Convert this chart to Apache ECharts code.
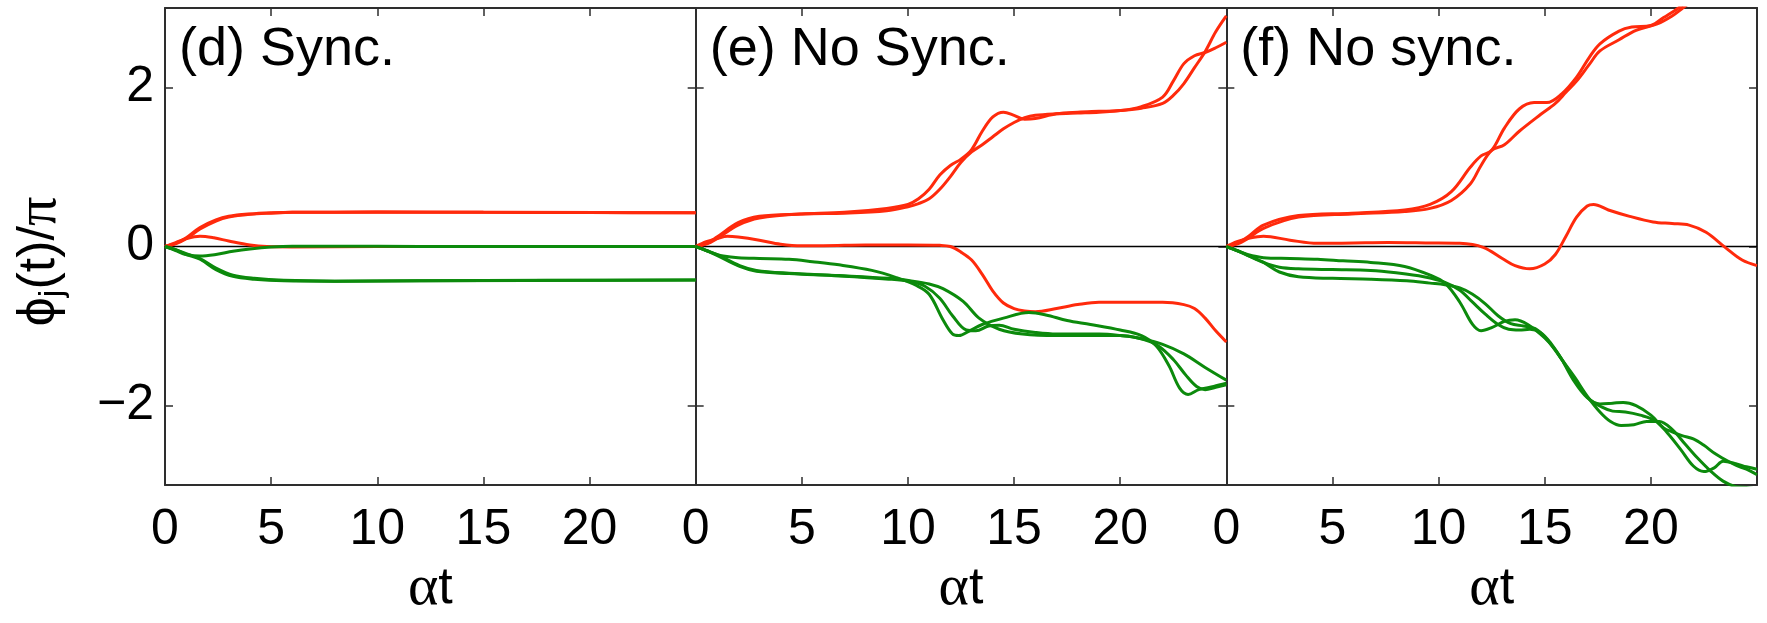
<!DOCTYPE html>
<html><head><meta charset="utf-8">
<script src="https://cdn.jsdelivr.net/npm/echarts@6/dist/echarts.min.js"></script>
<style>html,body{margin:0;padding:0;background:#fff}#c{width:1767px;height:623px}</style>
</head><body><div id="c"></div>
<script>
// ---------- data (x = αt, y = φj(t)/π) ----------
const panelTitles = ['(d) Sync.', '(e) No Sync.', '(f) No sync.'];
const xTickLabels = [0, 5, 10, 15, 20];
const xTickMarks = [5, 10, 15, 20];
const yTickLabels = [-2, 0, 2];
const xRange = [0, 25];
const yRange = [-3, 3];
const zeroLine = [[0, 0], [25, 0]];

// panel (d) Sync.
const d_red1 = [[0,0],[0.5,0.04],[1,0.11],[1.65,0.24],[2.4,0.335],[3,0.38],[4,0.41],[5,0.425],[6,0.432],[10,0.433],[15,0.43],[20,0.427],[25,0.425]];
const d_red2 = [[0,0],[0.5,0.035],[1,0.1],[1.65,0.22],[2.4,0.32],[3,0.37],[4,0.405],[5,0.42],[6,0.43],[10,0.433],[25,0.425]];
const d_red3 = [[0,0],[0.5,0.05],[1,0.1],[1.65,0.13],[2.3,0.11],[3,0.07],[4,0.02],[4.8,0.0],[6,-0.005],[10,0],[25,0]];
const d_grn1 = [[0,0],[0.5,-0.05],[1,-0.1],[1.65,-0.12],[2.4,-0.1],[3.2,-0.06],[4,-0.03],[5,-0.005],[6,0.005],[8,0.005],[12,0],[25,0]];
const d_grn2 = [[0,0],[0.5,-0.04],[1,-0.1],[1.65,-0.16],[2.4,-0.29],[3.2,-0.375],[4.2,-0.41],[5.6,-0.43],[8,-0.435],[12,-0.43],[18,-0.425],[25,-0.42]];
const d_grn3 = [[0,0],[0.5,-0.04],[1,-0.09],[1.65,-0.15],[2.4,-0.27],[3.2,-0.36],[4.2,-0.4],[5.6,-0.425],[8,-0.435],[12,-0.43],[25,-0.42]];

// panel (e) No Sync.
const e_red1 = [[0,0],[0.5,0.04],[1,0.12],[2,0.3],[3,0.38],[5,0.41],[7,0.43],[9,0.48],[10,0.53],[10.5,0.6],[11,0.72],[11.5,0.9],[12,1.02],[12.5,1.1],[13,1.22],[13.5,1.45],[14,1.63],[14.5,1.69],[15,1.65],[15.5,1.6],[16,1.61],[17,1.67],[18,1.69],[19,1.7],[20,1.71],[21,1.76],[22,1.88],[22.5,2.08],[23,2.3],[23.5,2.4],[24,2.44],[24.5,2.5],[25,2.57]];
const e_red2 = [[0,0],[0.5,0.03],[1,0.1],[2,0.27],[3,0.36],[5,0.41],[7,0.42],[9,0.45],[10,0.5],[10.5,0.54],[11,0.6],[11.5,0.72],[12,0.88],[12.5,1.06],[13,1.19],[13.5,1.28],[14,1.38],[14.5,1.48],[15,1.56],[15.5,1.62],[16,1.65],[17,1.67],[18,1.68],[19,1.69],[20,1.71],[21,1.74],[22,1.8],[22.5,1.9],[23,2.05],[23.5,2.25],[24,2.45],[24.5,2.7],[25,2.9]];
const e_red3 = [[0,0],[0.5,0.06],[1,0.1],[1.5,0.13],[2,0.12],[3,0.08],[4,0.03],[5,0.01],[6,0.01],[8,0.02],[10,0.02],[11.5,0.015],[12,0],[12.5,-0.07],[13,-0.17],[13.5,-0.35],[14,-0.56],[14.5,-0.71],[15,-0.78],[15.5,-0.81],[16,-0.82],[17,-0.78],[18,-0.73],[19,-0.7],[21,-0.7],[22,-0.7],[23,-0.73],[23.5,-0.78],[24,-0.9],[24.5,-1.06],[25,-1.2]];
const e_grn1 = [[0,0],[0.5,-0.05],[1,-0.1],[1.3,-0.12],[2,-0.14],[3,-0.15],[4.4,-0.16],[5.5,-0.19],[6.75,-0.23],[8.3,-0.3],[9.45,-0.39],[10.4,-0.49],[11,-0.6],[11.65,-0.92],[12.1,-1.1],[12.4,-1.12],[12.9,-1.06],[13.5,-0.98],[14.5,-0.9],[15.7,-0.83],[16.5,-0.86],[17.5,-0.93],[18.6,-0.98],[20,-1.05],[21,-1.12],[21.7,-1.25],[22.3,-1.5],[22.8,-1.78],[23.2,-1.86],[23.7,-1.8],[24.4,-1.76],[25,-1.72]];
const e_grn2 = [[0,0],[0.5,-0.05],[1,-0.11],[2.07,-0.25],[2.86,-0.31],[4.4,-0.34],[6.75,-0.37],[9.1,-0.41],[10.1,-0.44],[10.8,-0.5],[11.5,-0.65],[12.1,-0.87],[12.75,-1.05],[13.2,-1.06],[13.8,-1.0],[14.3,-0.99],[15,-1.04],[16,-1.08],[17,-1.1],[18,-1.1],[19,-1.1],[20,-1.12],[21,-1.16],[21.8,-1.25],[22.5,-1.42],[23.1,-1.62],[23.6,-1.76],[24,-1.8],[24.5,-1.77],[25,-1.74]];
const e_grn3 = [[0,0],[0.5,-0.05],[1,-0.1],[2.07,-0.24],[2.86,-0.3],[4.4,-0.335],[6.75,-0.365],[9.1,-0.4],[10.1,-0.43],[11,-0.47],[11.65,-0.53],[12.6,-0.69],[13.35,-0.9],[14.3,-1.04],[15.4,-1.1],[17,-1.12],[18.6,-1.12],[20,-1.12],[21,-1.16],[22,-1.23],[23,-1.35],[24,-1.52],[25,-1.68]];

// panel (f) No sync.
const f_red1 = [[0,0],[0.5,0.04],[1,0.12],[1.75,0.27],[3.4,0.39],[5.9,0.42],[8.4,0.46],[9.6,0.53],[10.6,0.69],[11.5,1.0],[12,1.14],[12.5,1.21],[13.1,1.49],[13.8,1.73],[14.5,1.81],[15.1,1.81],[15.8,1.92],[16.5,2.13],[17.1,2.38],[17.6,2.55],[18.5,2.71],[19.1,2.76],[20,2.78],[20.6,2.88],[21.3,3.0],[22,3.15],[23,3.35]];
const f_red2 = [[0,0],[0.5,0.03],[1,0.1],[1.75,0.23],[3.4,0.37],[5.9,0.41],[8.4,0.44],[9.6,0.48],[10.6,0.58],[11.5,0.79],[12,1.02],[12.5,1.21],[13.1,1.28],[13.8,1.45],[14.8,1.66],[15.5,1.8],[16,1.94],[16.5,2.08],[17.1,2.29],[17.6,2.46],[18.5,2.6],[19.3,2.72],[20.3,2.8],[21,2.9],[21.5,3.0],[22.5,3.2],[23.5,3.4]];
const f_red3 = [[0,0],[0.5,0.06],[1,0.1],[1.75,0.13],[3,0.08],[4.3,0.04],[6,0.045],[7.6,0.05],[9.5,0.045],[11,0.04],[12.1,-0.01],[13,-0.15],[13.6,-0.24],[14.3,-0.28],[15,-0.22],[15.5,-0.1],[16,0.13],[16.5,0.37],[17,0.51],[17.3,0.53],[18,0.46],[19,0.38],[20.1,0.31],[21,0.29],[21.8,0.27],[22.6,0.18],[23.5,-0.01],[24.3,-0.17],[25,-0.24]];
const f_grn1 = [[0,0],[0.5,-0.05],[1,-0.1],[1.75,-0.14],[3,-0.15],[4.3,-0.16],[5.5,-0.18],[6.8,-0.2],[8.4,-0.25],[9.6,-0.36],[10.3,-0.46],[11,-0.7],[11.6,-0.98],[12,-1.06],[12.5,-1.02],[13.1,-0.94],[13.6,-0.92],[14.2,-0.98],[15,-1.15],[15.5,-1.3],[16,-1.5],[16.6,-1.75],[17.1,-1.92],[17.7,-2.02],[18.2,-2.07],[18.8,-2.08],[19.5,-2.12],[20.2,-2.19],[20.8,-2.35],[21.4,-2.55],[22,-2.76],[22.5,-2.83],[23,-2.78],[23.4,-2.7],[24,-2.73],[24.5,-2.77],[25,-2.8]];
const f_grn2 = [[0,0],[0.5,-0.05],[1,-0.11],[1.75,-0.2],[2.5,-0.26],[3.4,-0.28],[5,-0.29],[6.8,-0.3],[8,-0.33],[9.3,-0.38],[10.3,-0.45],[11,-0.55],[11.6,-0.7],[12.2,-0.85],[12.8,-0.98],[13.3,-1.04],[13.8,-1.05],[14.3,-1.04],[14.8,-1.08],[15.3,-1.22],[15.8,-1.42],[16.4,-1.7],[17,-1.9],[17.6,-1.98],[18.2,-1.97],[18.7,-1.96],[19.3,-2.0],[20,-2.12],[20.6,-2.28],[21,-2.33],[21.5,-2.38],[22,-2.42],[22.5,-2.5],[23,-2.6],[23.5,-2.68],[24,-2.75],[24.5,-2.8],[25,-2.87]];
const f_grn3 = [[0,0],[0.5,-0.05],[1,-0.11],[1.75,-0.2],[2.5,-0.32],[3.4,-0.38],[5,-0.4],[6.8,-0.41],[8.5,-0.43],[9.6,-0.46],[10.3,-0.48],[11,-0.52],[11.6,-0.6],[12.2,-0.72],[12.8,-0.87],[13.4,-0.97],[14,-1.0],[14.6,-1.04],[15.2,-1.2],[15.8,-1.42],[16.4,-1.64],[17,-1.88],[17.6,-2.08],[18.1,-2.2],[18.6,-2.25],[19.2,-2.24],[19.8,-2.2],[20.4,-2.2],[21,-2.3],[21.6,-2.48],[22.2,-2.66],[22.8,-2.82],[23.4,-2.95],[24,-3.02],[24.5,-3.03],[25,-3.05]];

const panels = [
  { red: [d_red1, d_red2, d_red3], green: [d_grn1, d_grn2, d_grn3] },
  { red: [e_red1, e_red2, e_red3], green: [e_grn1, e_grn2, e_grn3] },
  { red: [f_red1, f_red2, f_red3], green: [f_grn1, f_grn2, f_grn3] }
];

// ---------- styling ----------
const FONT = 'Liberation Sans';
const RED = '#ff2a0c';
const GREEN = '#0c8a0c';
const AXC = '#2e2e2e';
const GL = 165, GW = 530.67, GT = 8, GH = 508;
const lineW = 3;

const grids = [], xAxes = [], yAxes = [], series = [], graphics = [];
const axisLineStyle = { show: true, onZero: false, lineStyle: { color: AXC, width: 2 } };
const tickStyle = { color: AXC, width: 1.5 };

panels.forEach((p, i) => {
  grids.push({ left: GL + i * GW, top: GT, width: GW, height: GH });
  xAxes.push({
    gridIndex: i, type: 'value', position: 'bottom', min: xRange[0], max: xRange[1],
    axisLine: axisLineStyle,
    axisTick: { show: true, inside: true, length: 8, customValues: xTickMarks, lineStyle: tickStyle },
    axisLabel: { show: true, customValues: xTickLabels, margin: 20, fontSize: 50, fontFamily: FONT, color: '#000', lineHeight: 50 },
    splitLine: { show: false },
    name: '{g|α}{n|t}', nameLocation: 'middle', nameGap: 58,
    nameTextStyle: { rich: {
      g: { fontFamily: 'Liberation Serif', fontSize: 58, color: '#000', lineHeight: 56 },
      n: { fontFamily: FONT, fontSize: 52, color: '#000', lineHeight: 56 } } }
  });
  xAxes.push({
    gridIndex: i, type: 'value', position: 'top', min: xRange[0], max: xRange[1],
    axisLine: axisLineStyle,
    axisTick: { show: true, inside: true, length: 8, customValues: xTickMarks, lineStyle: tickStyle },
    axisLabel: { show: false }, splitLine: { show: false }
  });
  const yLeft = {
    gridIndex: i, type: 'value', position: 'left', min: yRange[0], max: yRange[1],
    axisLine: axisLineStyle,
    axisTick: { show: true, inside: true, length: 8, customValues: yTickLabels, lineStyle: tickStyle },
    axisLabel: { show: i === 0, customValues: yTickLabels, margin: 11, fontSize: 50, fontFamily: FONT, color: '#000',
      formatter: v => (v < 0 ? '\u2212' + Math.abs(v) : String(v)) },
    splitLine: { show: false }
  };
  if (i === 0) {
    yLeft.name = '{a|ϕ}{s|j}{a|(t)/}{p|π}';
    yLeft.nameLocation = 'middle';
    yLeft.nameRotate = 90;
    yLeft.nameGap = 95;
    yLeft.nameTextStyle = { padding: [0, 30, 0, 0], rich: {
      a: { fontFamily: FONT, fontSize: 52, color: '#000', lineHeight: 60 },
      p: { fontFamily: 'Liberation Serif', fontSize: 58, color: '#000', lineHeight: 60 },
      s: { fontFamily: FONT, fontSize: 34, color: '#000', lineHeight: 22, verticalAlign: 'bottom' } } };
  }
  yAxes.push(yLeft);
  yAxes.push({
    gridIndex: i, type: 'value', position: 'right', min: yRange[0], max: yRange[1],
    axisLine: axisLineStyle,
    axisTick: { show: true, inside: true, length: 8, customValues: yTickLabels, lineStyle: tickStyle },
    axisLabel: { show: false }, splitLine: { show: false }
  });

  series.push({ type: 'line', xAxisIndex: 2 * i, yAxisIndex: 2 * i, data: zeroLine, symbol: 'none', silent: true,
    lineStyle: { color: '#000', width: 1.4 }, z: 1 });
  p.red.forEach(d => series.push({ type: 'line', xAxisIndex: 2 * i, yAxisIndex: 2 * i, data: d, symbol: 'none',
    smooth: 0.35, clip: true, lineStyle: { color: RED, width: lineW }, z: 2 }));
  p.green.forEach(d => series.push({ type: 'line', xAxisIndex: 2 * i, yAxisIndex: 2 * i, data: d, symbol: 'none',
    smooth: 0.35, clip: true, lineStyle: { color: GREEN, width: lineW }, z: 3 }));

  graphics.push({ type: 'text', x: GL + i * GW + 14, y: 50, z: 10,
    style: { text: panelTitles[i], font: '54px "Liberation Sans"', fill: '#000',
      textVerticalAlign: 'middle', verticalAlign: 'middle', textAlign: 'left' } });
});

const chart = echarts.init(document.getElementById('c'), null, { renderer: 'canvas' });
chart.setOption({
  animation: false,
  backgroundColor: '#fff',
  grid: grids, xAxis: xAxes, yAxis: yAxes, series: series, graphic: graphics
});
</script>
</body></html>
